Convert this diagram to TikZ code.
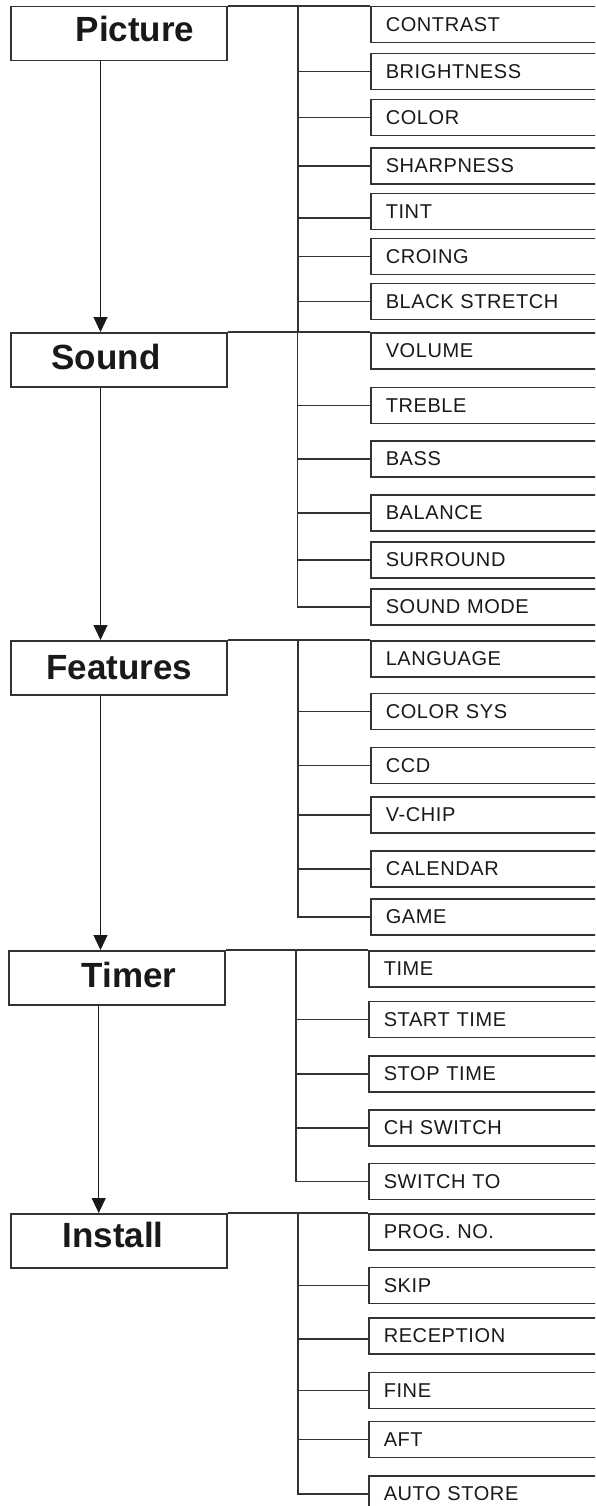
\documentclass[tikz,border=0pt]{standalone}
\usepackage{fontspec}
\setmainfont{Liberation Sans}
\newfontfamily\subfont[LetterSpace=3]{Liberation Sans}
\usetikzlibrary{arrows.meta}
\tikzset{
  ln/.style={line width=1.5pt, draw=black!80},
  mainbox/.style={ln, rectangle, anchor=north west, minimum width=216pt, minimum height=54pt, inner sep=0pt},
  mainlabel/.style={font=\fontsize{35}{40}\selectfont\bfseries, text=black!90, inner sep=0pt},
  subbox/.style={ln, rectangle, anchor=north west, text width=215pt, minimum height=36pt, inner xsep=15pt, inner ysep=0pt, align=left, font=\subfont\fontsize{20}{22}\selectfont, text=black!90},
  flow/.style={line width=1.1pt, draw=black!90, -{Triangle[width=14pt,length=15pt]}, fill=black!90},
}
\begin{document}
\begin{tikzpicture}[x=1pt,y=-1pt]
\useasboundingbox (0,0) rectangle (595,1506);
\clip (0,0) rectangle (595,1506);
\fill[white] (0,0) rectangle (595,1506);

% main boxes
\node[mainbox] (pic) at (10,6) {};
\node[mainbox] (snd) at (10,332) {};
\node[mainbox] (fea) at (10,640) {};
\node[mainbox] (tim) at (8,950) {};
\node[mainbox] (ins) at (10,1213) {};
\node[mainlabel] (picL) at (135,29) {Picture};
\node[mainlabel] (sndL) at (106,357) {Sound};
\node[mainlabel] (feaL) at (119.5,668) {Features};
\node[mainlabel] (timL) at (129,975) {Timer};
\node[mainlabel] (insL) at (113,1235) {Install};

% arrows
\coordinate (ax) at (100.5,0);
\coordinate (ax2) at (98.7,0);
\draw[flow] (ax |- pic.south) -- (ax |- snd.north);
\draw[flow] (ax |- snd.south) -- (ax |- fea.north);
\draw[flow] (ax |- fea.south) -- (ax |- tim.north);
\draw[flow] (ax2 |- tim.south) -- (ax2 |- ins.north);

% Picture items
\node[subbox] (contrast) at (370,6) {CONTRAST};
\node[subbox] (bright) at (370,52.7) {BRIGHTNESS};
\node[subbox] (color) at (370,99) {COLOR};
\node[subbox] (sharp) at (370,147.3) {SHARPNESS};
\node[subbox] (tint) at (370,192.7) {TINT};
\node[subbox] (croing) at (370,237.7) {CROING};
\node[subbox] (black) at (370,282.7) {BLACK STRETCH};
% Sound items
\node[subbox] (volume) at (370,332) {VOLUME};
\node[subbox] (treble) at (370,386.7) {TREBLE};
\node[subbox] (bass) at (370,440) {BASS};
\node[subbox] (balance) at (370,494) {BALANCE};
\node[subbox] (surround) at (370,541) {SURROUND};
\node[subbox] (smode) at (370,588.3) {SOUND MODE};
% Features items
\node[subbox] (lang) at (370,640) {LANGUAGE};
\node[subbox] (csys) at (370,692.7) {COLOR SYS};
\node[subbox] (ccd) at (370,746.7) {CCD};
\node[subbox] (vchip) at (370,796) {V-CHIP};
\node[subbox] (cal) at (370,850) {CALENDAR};
\node[subbox] (game) at (370,898.3) {GAME};
% Timer items
\node[subbox] (time) at (368,950) {TIME};
\node[subbox] (start) at (368,1000.7) {START TIME};
\node[subbox] (stop) at (368,1055) {STOP TIME};
\node[subbox] (chsw) at (368,1109) {CH SWITCH};
\node[subbox] (swto) at (368,1162.7) {SWITCH TO};
% Install items
\node[subbox] (prog) at (368,1213) {PROG. NO.};
\node[subbox] (skip) at (368,1266.7) {SKIP};
\node[subbox] (recep) at (368,1317.3) {RECEPTION};
\node[subbox] (fine) at (368,1371.7) {FINE};
\node[subbox] (aft) at (368,1420.7) {AFT};
\node[subbox] (astore) at (368,1475) {AUTO STORE};

% top lines
\draw[ln] (pic.north east) -- (contrast.north west);
\draw[ln] (snd.north east) -- (volume.north west);
\draw[ln] (fea.north east) -- (lang.north west);
\draw[ln] (tim.north east) -- (time.north west);
\draw[ln] (ins.north east) -- (prog.north west);

% trunks
\coordinate (pT) at (298,6);
\coordinate (pB) at (298,332);
\coordinate (sT) at (297.5,332);
\coordinate (fT) at (298,640);
\coordinate (tT) at (296,950);
\coordinate (iT) at (298,1213);
\draw[ln] (pT) -- (pB);
\draw[ln] (sT) |- (smode.west);
\draw[ln] (fT) |- (game.west);
\draw[ln] (tT) |- (swto.west);
\draw[ln] (iT) |- (astore.west);

% branches
\foreach \n in {bright,color,sharp,croing,black} \draw[ln] (pT |- \n.west) -- (\n.west);
\draw[ln] ([yshift=-6.5pt]tint.west -| pT) -- ([yshift=-6.5pt]tint.west);
\foreach \n in {treble,bass,balance,surround} \draw[ln] (sT |- \n.west) -- (\n.west);
\foreach \n in {csys,ccd,vchip,cal} \draw[ln] (fT |- \n.west) -- (\n.west);
\foreach \n in {start,stop,chsw} \draw[ln] (tT |- \n.west) -- (\n.west);
\foreach \n in {skip,fine,aft} \draw[ln] (iT |- \n.west) -- (\n.west);
\draw[ln] ([yshift=-3pt]recep.west -| iT) -- ([yshift=-3pt]recep.west);
\end{tikzpicture}
\end{document}
